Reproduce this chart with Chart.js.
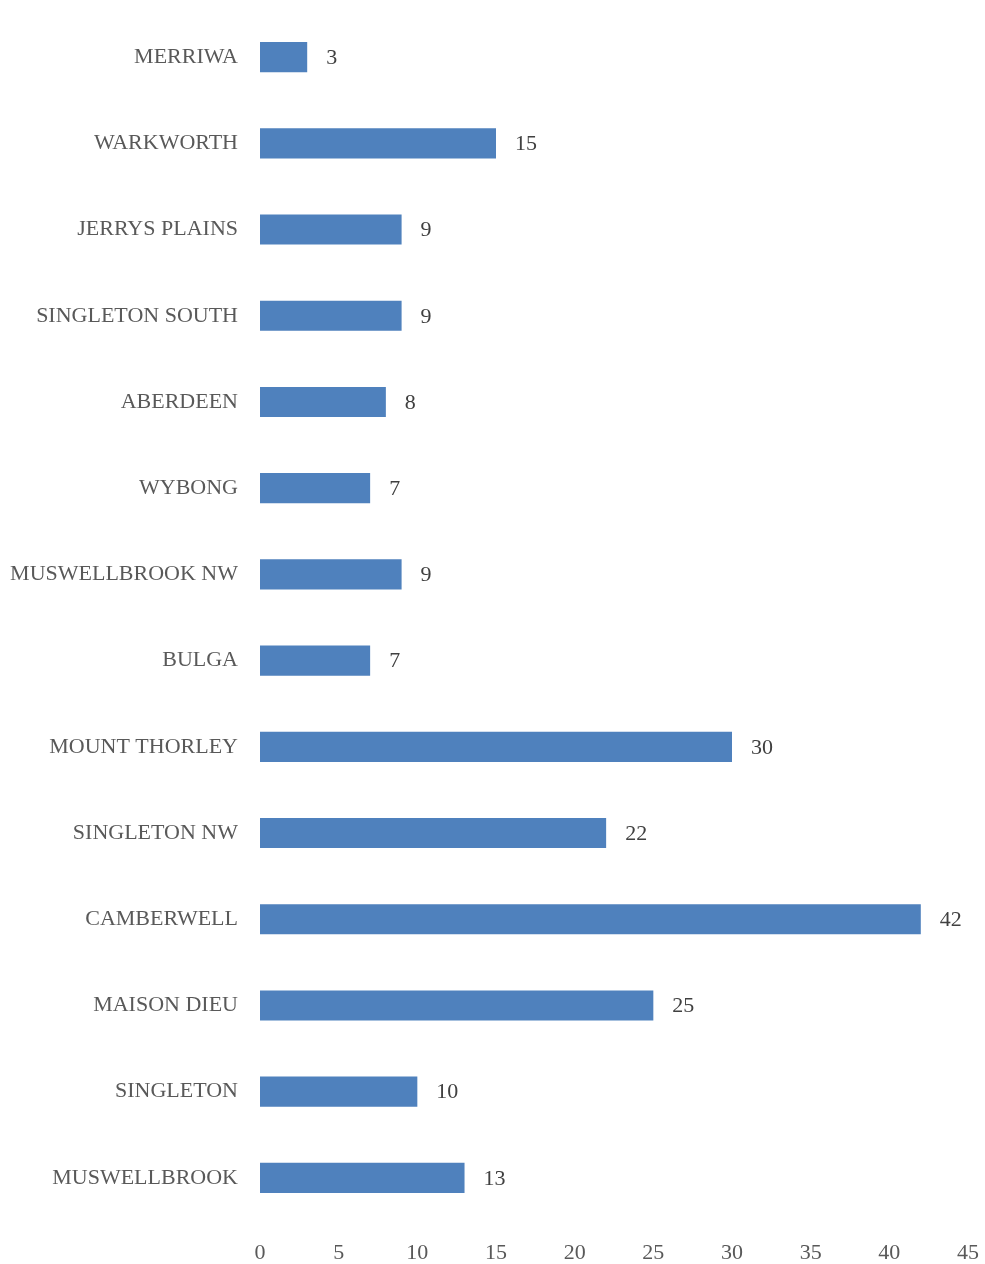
<!DOCTYPE html>
<html>
<head>
<meta charset="utf-8">
<script src="https://cdn.jsdelivr.net/npm/chart.js@4/dist/chart.umd.min.js"></script>
<style>
  body { margin: 0; background: #fff; }
  canvas { display: block; }
</style>
</head>
<body>
<canvas id="chart" width="985" height="1264"></canvas>
<script>
// data
const places = ['MERRIWA', 'WARKWORTH', 'JERRYS PLAINS', 'SINGLETON SOUTH', 'ABERDEEN', 'WYBONG',
  'MUSWELLBROOK NW', 'BULGA', 'MOUNT THORLEY', 'SINGLETON NW', 'CAMBERWELL', 'MAISON DIEU',
  'SINGLETON', 'MUSWELLBROOK'];
const counts = [3, 15, 9, 9, 8, 7, 9, 7, 30, 22, 42, 25, 10, 13];
const xTicks = [0, 5, 10, 15, 20, 25, 30, 35, 40, 45];

const FONT = "'Liberation Serif', 'DejaVu Serif', serif";

// value labels just past the end of each bar
const valueLabels = {
  id: 'valueLabels',
  afterDatasetsDraw(chart) {
    let ctx = chart.ctx;
    ctx.save();
    ctx.font = '22px ' + FONT;
    ctx.fillStyle = '#404040';
    ctx.textBaseline = 'middle';
    ctx.textAlign = 'left';
    chart.getDatasetMeta(0).data.forEach((bar, i) => {
      ctx.fillText(counts[i], bar.x + 19, bar.y + 1);
    });
    ctx.restore();
  }
};

new Chart(document.getElementById('chart'), {
  type: 'bar',
  data: {
    labels: places,
    datasets: [{
      data: counts,
      backgroundColor: '#4F81BD',
      borderWidth: 0,
      categoryPercentage: 0.35,
      barPercentage: 1
    }]
  },
  options: {
    indexAxis: 'y',
    responsive: false,
    animation: false,
    layout: { padding: 0 },
    plugins: {
      legend: { display: false },
      tooltip: { enabled: false }
    },
    scales: {
      x: {
        min: 0,
        max: 45,
        afterBuildTicks: axis => { axis.ticks = xTicks.map(v => ({ value: v })); },
        afterFit: axis => {
          axis.height = 43;
          axis.paddingLeft = 0;
          axis.paddingRight = 17;
        },
        grid: { display: false, drawTicks: false },
        border: { display: false },
        ticks: {
          padding: 19,
          color: '#595959',
          font: { family: FONT, size: 22 }
        }
      },
      y: {
        afterFit: axis => {
          axis.width = 260;
          axis.paddingTop = 14;
          axis.paddingBottom = 0;
        },
        grid: { display: false, drawTicks: false },
        border: { display: false },
        ticks: {
          padding: 22,
          color: '#595959',
          font: { family: FONT, size: 22 }
        }
      }
    }
  },
  plugins: [valueLabels]
});
</script>
</body>
</html>
